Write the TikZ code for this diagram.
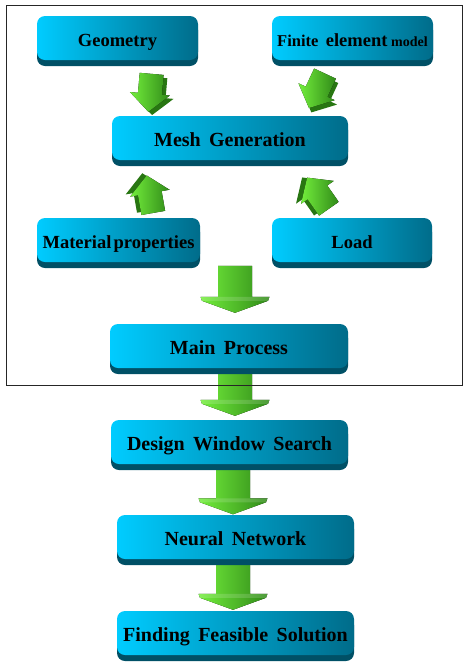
\documentclass[tikz,border=0pt]{standalone}
\usepackage{fontspec}
\setmainfont{Liberation Serif}
\usetikzlibrary{shadows,calc}
\definecolor{boxL}{RGB}{0,204,255}
\definecolor{boxR}{RGB}{0,108,138}
\definecolor{boxS}{RGB}{0,80,102}
\definecolor{grL}{RGB}{115,238,60}
\definecolor{grR}{RGB}{48,138,24}
\definecolor{grD}{RGB}{40,118,18}
\newcommand\wgap[1]{\hspace*{#1em}}
\pgfdeclarelayer{bg}
\pgfsetlayers{bg,main}
\begin{document}
\begin{tikzpicture}[x=1pt,y=-1pt,
  stagebox/.style={rectangle, rounded corners=8pt, minimum height=44pt, inner sep=0pt,
    left color=boxL, right color=boxR, draw=none,
    general shadow={fill=boxS, shadow yshift=-6pt},
    text height=17pt, text depth=0pt,
    font=\fontsize{20}{24}\selectfont\bfseries},
  topfont/.style={font=\fontsize{18.5}{22}\selectfont\bfseries, text height=16pt},
  bigarrow/.pic={
    \fill[left color=grL, right color=grR]
      (-17,-23.5)--(17,-23.5)--(17,7.5)--(34.5,7.5)--(33,11.5)--(0,23.5)--(-33,11.5)--(-34.5,7.5)--(-17,7.5)--cycle;
    \fill[white, opacity=0.15] (-34.5,7.5)--(34.5,7.5)--(33,11.5)--(-33,11.5)--cycle;
  },
  smallarrow/.pic={
    \begin{scope}[shift={(4,3)}]
      \fill[grD] (-12,-19)--(12,-19)--(12,1)--(20,1)--(0,19)--(-20,1)--(-12,1)--cycle;
    \end{scope}
    \fill[left color=grL, right color=grR]
      (-12,-19)--(12,-19)--(12,1)--(20,1)--(0,19)--(-20,1)--(-12,1)--cycle;
  }
]
\useasboundingbox (0,0) rectangle (463,662);
\draw[line width=1pt, black!85] (6.5,5.5) rectangle (462.5,385);

\node[stagebox, topfont, minimum width=161pt] (geo) at (117.5,38) {Geometry};
\node[stagebox, minimum width=161pt, text height=16pt] (fem) at (352.5,38)
  {\fontsize{16.5}{20}\selectfont Finite\wgap{0.45}\fontsize{18.5}{22}\selectfont element\wgap{0.2}\fontsize{14}{17}\selectfont model};
\node[stagebox, minimum width=236pt] (mesh) at (230,138) {Mesh\wgap{0.42}Generation};
\node[stagebox, topfont, minimum width=163pt] (mat) at (118.5,240) {Material\wgap{0.12}properties};
\node[stagebox, topfont, minimum width=160pt] (load) at (352,240) {Load};
\node[stagebox, minimum width=238pt] (main) at (229,346) {Main\wgap{0.42}Process};
\node[stagebox, minimum width=237pt] (dws) at (229.5,442) {Design\wgap{0.42}Window\wgap{0.42}Search};
\node[stagebox, minimum width=237pt] (nn) at (235.5,537) {Neural\wgap{0.42}Network};
\node[stagebox, minimum width=237pt] (ffs) at (235.5,633) {Finding\wgap{0.42}Feasible\wgap{0.42}Solution};

\begin{pgfonlayer}{bg}
  \pic at ($(main.north)+(6,-34.5)$) {bigarrow};
  \pic at ($(dws.north)+(5.5,-27.5)$) {bigarrow};
  \pic at ($(nn.north)+(-2.5,-24)$) {bigarrow};
  \pic at ($(ffs.north)+(-2.5,-24.5)$) {bigarrow};
  \pic[rotate=-5] at ($(mesh.north)+(-80,-23)$) {smallarrow};
  \pic[rotate=-25] at ($(mesh.north)+(87,-25)$) {smallarrow};
  \pic[rotate=190] at ($(mesh.south)+(-80,34)$) {smallarrow};
  \pic[rotate=215] at ($(mesh.south)+(88,33)$) {smallarrow};
\end{pgfonlayer}
\end{tikzpicture}
\end{document}
